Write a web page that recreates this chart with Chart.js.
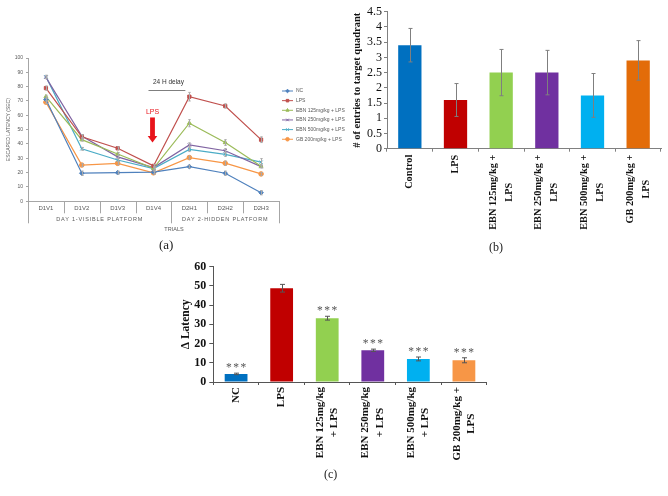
<!DOCTYPE html>
<html><head><meta charset="utf-8">
<script src="https://cdn.jsdelivr.net/npm/chart.js@4/dist/chart.umd.min.js"></script>
<style>
html,body{margin:0;padding:0;background:#fff;width:668px;height:496px;overflow:hidden;position:relative;}
canvas{position:absolute;}
.cap{position:absolute;font-family:"Liberation Serif",serif;color:#222;line-height:14px;}
</style></head><body>
<canvas id="ca" style="left:0;top:40px;width:348px;height:200px" width="348" height="200"></canvas>
<canvas id="cb" style="left:335px;top:0;width:333px;height:255px" width="333" height="255"></canvas>
<canvas id="cc" style="left:160px;top:255px;width:340px;height:241px" width="340" height="241"></canvas>
<div class="cap" style="left:159px;top:238px;font-size:13px">(a)</div>
<div class="cap" style="left:489px;top:240px;font-size:12px">(b)</div>
<div class="cap" style="left:324px;top:467px;font-size:12px">(c)</div>
<script>
// ---------- Panel (a) data ----------
const trials = ['D1V1','D1V2','D1V3','D1V4','D2H1','D2H2','D2H3'];
const trialGroups = ['DAY 1-VISIBLE PLATFORM','DAY 2-HIDDEN PLATFORM'];
const trialGroupSpans = [4,3];
const seriesNamesA = ['NC','LPS','EBN 125mg/kg + LPS','EBN 250mg/kg + LPS','EBN 500mg/kg + LPS','GB 200mg/kg + LPS'];
const ncLatency     = [71, 19.6, 20, 20.3, 24.2, 19.6, 6];
const lpsLatency    = [79, 45, 37, 24.7, 73, 66.5, 43];
const ebn125Latency = [73, 43, 33, 23, 54.5, 41, 24.5];
const ebn250Latency = [86.5, 45.5, 31, 23.5, 39.3, 35.3, 24.2];
const ebn500Latency = [87, 36.6, 28.8, 22.8, 36.2, 32.8, 27.3];
const gbLatency     = [69.2, 25.3, 26.5, 19.9, 30.5, 26.6, 19.1];
const ncErr     = [1, 1.5, 1, 1, 1, 1.5, 1.5];
const lpsErr    = [1.5, 1.5, 1, 1, 3, 1.5, 2];
const ebn125Err = [1, 1, 1, 1, 2.5, 2, 1];
const ebn250Err = [1, 1, 1, 1, 1.5, 1.5, 1];
const ebn500Err = [1, 1, 1, 1, 1.5, 1.5, 2.5];
const gbErr     = [1, 1, 1, 1, 1, 1.5, 1];
const yTicksA = {min:0, max:100, step:10};

// ---------- Panel (b) data ----------
const groupsB = ['Control','LPS',['EBN 125mg/kg +','LPS'],['EBN 250mg/kg +','LPS'],['EBN 500mg/kg +','LPS'],['GB 200mg/kg +','LPS']];
const entries    = [3.4, 1.6, 2.5, 2.5, 1.75, 2.9];
const entriesErr = [0.55, 0.54, 0.76, 0.73, 0.72, 0.65];
const yTicksB = {min:0, max:4.5, step:0.5};

// ---------- Panel (c) data ----------
const groupsC = ['NC','LPS',['EBN 125mg/kg','+ LPS'],['EBN 250mg/kg','+ LPS'],['EBN 500mg/kg','+ LPS'],['GB 200mg/kg +','LPS']];
const deltaLatency = [4.2, 48.8, 33.2, 16.5, 12, 11.3];
const deltaErr     = [0.4, 2, 1, 0.6, 1, 1.3];
const signif       = ['***','','***','***','***','***'];
const yTicksC = {min:0, max:60, step:10};

const serif = '"Liberation Serif", "Times New Roman", serif';
const sans = '"Liberation Sans", Arial, sans-serif';

// error bar plugin
const errorBars = {
  id:'errorBars',
  afterDatasetsDraw(chart){
    const ctx = chart.ctx, ys = chart.scales.y;
    chart.data.datasets.forEach((ds,di)=>{
      if(!ds.errors) return;
      const meta = chart.getDatasetMeta(di);
      ctx.save();
      ctx.strokeStyle = ds.errorColor || '#777';
      ctx.lineWidth = ds.errorWidth || 1;
      const cap = ds.capHalf || 2;
      meta.data.forEach((el,i)=>{
        const v = ds.data[i], e = ds.errors[i];
        const x = Math.round(el.x)+0.5;
        const y1 = ys.getPixelForValue(v+e), y2 = ys.getPixelForValue(v-e);
        ctx.beginPath();
        ctx.moveTo(x,y1); ctx.lineTo(x,y2);
        ctx.moveTo(x-cap,y1); ctx.lineTo(x+cap,y1);
        ctx.moveTo(x-cap,y2); ctx.lineTo(x+cap,y2);
        ctx.stroke();
        if(ds.marks && ds.marks[i]){
          ctx.fillStyle = '#555';
          ctx.font = '11.5px ' + serif;
          if('letterSpacing' in ctx) ctx.letterSpacing = '1.5px';
          ctx.textAlign='center'; ctx.textBaseline='alphabetic';
          ctx.fillText(ds.marks[i], el.x+0.75, y1-2);
          if('letterSpacing' in ctx) ctx.letterSpacing = '0px';
        }
      });
      ctx.restore();
    });
  }
};

// rotated, centred multi-line category labels
const rotLabels = {
  id:'rotLabels',
  afterDraw(chart, args, opts){
    const ctx = chart.ctx, xs = chart.scales.x, ca = chart.chartArea;
    ctx.save();
    ctx.font = opts.font; ctx.fillStyle = opts.color;
    chart.data.labels.forEach((lab,i)=>{
      const lines = Array.isArray(lab) ? lab : [lab];
      const maxW = Math.max(...lines.map(l=>ctx.measureText(l).width));
      const x = xs.getPixelForValue(i), n = lines.length;
      ctx.save();
      ctx.translate(x, ca.bottom + opts.gap);
      ctx.rotate(-Math.PI/2);
      ctx.textAlign='center'; ctx.textBaseline='middle';
      lines.forEach((l,j)=>{
        ctx.fillText(l, -maxW/2, (j-(n-1)/2)*opts.lineHeight);
      });
      ctx.restore();
    });
    ctx.restore();
  }
};

// panel (a) decorations
const panelA = {
  id:'panelA',
  afterDraw(chart){
    const ctx = chart.ctx, xs = chart.scales.x, ys = chart.scales.y, ca = chart.chartArea;
    const n = trials.length, w = (ca.right-ca.left)/n;
    ctx.save();
    ctx.strokeStyle = '#a6a6a6'; ctx.lineWidth = 1;
    const majors = [0];
    let acc = 0; trialGroupSpans.forEach(s=>{acc+=s; majors.push(acc);});
    for(let k=0;k<=n;k++){
      const x = Math.round(ca.left + k*w)+0.5;
      const len = majors.includes(k) ? 22 : 12;
      ctx.beginPath(); ctx.moveTo(x, ca.bottom); ctx.lineTo(x, ca.bottom+len); ctx.stroke();
    }
    ctx.fillStyle = '#595959';
    ctx.font = '5.5px ' + sans;
    ctx.textAlign='center'; ctx.textBaseline='middle';
    let start = 0;
    if('letterSpacing' in ctx) ctx.letterSpacing = '0.8px';
    trialGroups.forEach((g,i)=>{
      const cx = ca.left + (start + trialGroupSpans[i]/2)*w;
      ctx.fillText(g, cx, ca.bottom+18);
      start += trialGroupSpans[i];
    });
    if('letterSpacing' in ctx) ctx.letterSpacing = '0px';
    ctx.fillText('TRIALS', ca.right - 105, ca.bottom+28.5);
    // 24 H delay
    const x3 = xs.getPixelForValue(3), x4 = xs.getPixelForValue(4);
    ctx.strokeStyle = '#7f7f7f'; ctx.lineWidth = 1.2;
    const yl = Math.round(ys.getPixelForValue(77.8))+0.5;
    ctx.beginPath(); ctx.moveTo(x3-5, yl); ctx.lineTo(x4-4, yl); ctx.stroke();
    ctx.fillStyle = '#333'; ctx.font = '6.5px ' + sans;
    ctx.fillText('24 H delay', (x3+x4)/2-3, ys.getPixelForValue(83.2));
    // LPS arrow
    ctx.fillStyle = '#e8141b';
    ctx.font = '7px ' + sans;
    ctx.fillText('LPS', x3-1, ys.getPixelForValue(62));
    const ax = x3-1;
    const yTop = ys.getPixelForValue(58.5), yHead = ys.getPixelForValue(45.5), yTip = ys.getPixelForValue(41);
    ctx.fillRect(ax-2.4, yTop, 4.8, yHead-yTop);
    ctx.beginPath(); ctx.moveTo(ax-4.8, yHead); ctx.lineTo(ax+4.8, yHead); ctx.lineTo(ax, yTip); ctx.closePath(); ctx.fill();
    // legend
    const lx = ca.right+3, ly0 = ca.top+33, sp = 9.65;
    chart.data.datasets.forEach((ds,i)=>{
      const y = ly0 + i*sp;
      ctx.strokeStyle = ds.borderColor; ctx.lineWidth = 1;
      ctx.beginPath(); ctx.moveTo(lx, y); ctx.lineTo(lx+11, y); ctx.stroke();
      ctx.fillStyle = ds.backgroundColor; ctx.strokeStyle = ds.borderColor;
      Chart.helpers.drawPoint(ctx, {pointStyle: ds.pointStyle, radius: 1.8, rotation:0, borderWidth:1}, lx+5.5, y);
      ctx.fillStyle = '#595959'; ctx.font = '5px ' + sans; ctx.textAlign='left';
      ctx.fillText(ds.label, lx+14, y);
    });
    ctx.restore();
  }
};

const colorsA = ['#4f81bd','#c0504d','#9bbb59','#8064a2','#4bacc6','#f79646'];
const stylesA = ['rectRot','rect','triangle','crossRot','crossRot','circle'];
const valsA = [ncLatency,lpsLatency,ebn125Latency,ebn250Latency,ebn500Latency,gbLatency];
const errsA = [ncErr,lpsErr,ebn125Err,ebn250Err,ebn500Err,gbErr];
const fmt = v => String(+Number(v).toFixed(2));

new Chart(document.getElementById('ca'), {
  type:'line',
  data:{labels:trials, datasets: seriesNamesA.map((name,i)=>({
    label:name, data:valsA[i], errors:errsA[i], errorColor:'#aaa', capHalf:1.2,
    borderColor:colorsA[i], backgroundColor:colorsA[i], borderWidth:1.2,
    pointStyle:stylesA[i], pointRadius:2.3, pointBorderWidth:1, tension:0
  }))},
  options:{
    responsive:false, animation:false, devicePixelRatio:1,
    layout:{padding:{left:6, top:18, right:69, bottom:0}},
    plugins:{legend:{display:false}, tooltip:{enabled:false}},
    scales:{
      x:{offset:true, grid:{display:false, drawTicks:false}, border:{display:true, color:'#a6a6a6'},
         ticks:{font:{size:6, family:sans}, color:'#595959', padding:3, maxRotation:0, autoSkip:false},
         afterFit(s){s.height=38.7;}},
      y:{min:yTicksA.min, max:yTicksA.max, ticks:{stepSize:yTicksA.step, font:{size:5, family:sans}, color:'#595959', padding:3, autoSkip:false},
         grid:{drawOnChartArea:false, tickLength:2, color:'#a6a6a6'}, border:{color:'#a6a6a6'},
         title:{display:true, text:'ESCAPED LATENCY (SEC)', font:{size:5, family:sans}, color:'#595959', padding:{top:0,bottom:0}},
         afterFit(s){s.width=22;}}
    }
  },
  plugins:[errorBars, panelA]
});

// panel (b)
const colorsB = ['#0070c0','#c00000','#92d050','#7030a0','#00b0f0','#e36c09'];
new Chart(document.getElementById('cb'), {
  type:'bar',
  data:{labels:groupsB, datasets:[{data:entries, errors:entriesErr, errorColor:'#7f7f7f', capHalf:2,
    backgroundColor:colorsB, borderWidth:0, barPercentage:0.51, categoryPercentage:1}]},
  options:{
    responsive:false, animation:false, devicePixelRatio:1,
    layout:{padding:{left:16, top:11.7, right:7, bottom:0}},
    plugins:{legend:{display:false}, tooltip:{enabled:false},
      rotLabels:{font:'bold 10.3px ' + serif, color:'#111', gap:6, lineHeight:16}},
    scales:{
      x:{grid:{display:true, drawOnChartArea:false, offset:true, tickLength:3, color:'#808080'}, border:{color:'#808080'},
         ticks:{display:false},
         afterFit(s){s.height=106.3;}},
      y:{min:yTicksB.min, max:yTicksB.max, ticks:{stepSize:yTicksB.step, font:{size:12, family:serif}, color:'#111', padding:2, autoSkip:false, callback:fmt},
         grid:{drawOnChartArea:false, tickLength:3, color:'#808080'}, border:{color:'#808080'},
         title:{display:true, text:'# of entries to target quadrant', font:{size:10.5, family:serif, weight:'bold'}, color:'#111', padding:{top:0,bottom:0}},
         afterFit(s){s.width=36;}}
    }
  },
  plugins:[errorBars, rotLabels]
});

// panel (c)
const colorsC = ['#0070c0','#c00000','#92d050','#7030a0','#00b0f0','#f79646'];
new Chart(document.getElementById('cc'), {
  type:'bar',
  data:{labels:groupsC, datasets:[{data:deltaLatency, errors:deltaErr, marks:signif, errorColor:'#555', capHalf:2.5,
    backgroundColor:colorsC, borderWidth:0, barPercentage:0.5, categoryPercentage:1}]},
  options:{
    responsive:false, animation:false, devicePixelRatio:1,
    layout:{padding:{left:19, top:11.7, right:13.3, bottom:0}},
    plugins:{legend:{display:false}, tooltip:{enabled:false},
      rotLabels:{font:'bold 11px ' + serif, color:'#111', gap:5, lineHeight:14.5}},
    scales:{
      x:{grid:{display:true, drawOnChartArea:false, offset:true, tickLength:3, color:'#555'}, border:{color:'#555'},
         ticks:{display:false},
         afterFit(s){s.height=114;}},
      y:{min:yTicksC.min, max:yTicksC.max, ticks:{stepSize:yTicksC.step, font:{size:12, family:serif, weight:'bold'}, color:'#111', padding:3, autoSkip:false},
         grid:{drawOnChartArea:false, tickLength:4, color:'#555'}, border:{color:'#555'},
         title:{display:true, text:'Δ Latency', font:{size:11.5, family:serif, weight:'bold'}, color:'#111', padding:{top:0,bottom:0}},
         afterFit(s){s.width=34.3;}}
    }
  },
  plugins:[errorBars, rotLabels]
});
</script>
</body></html>
